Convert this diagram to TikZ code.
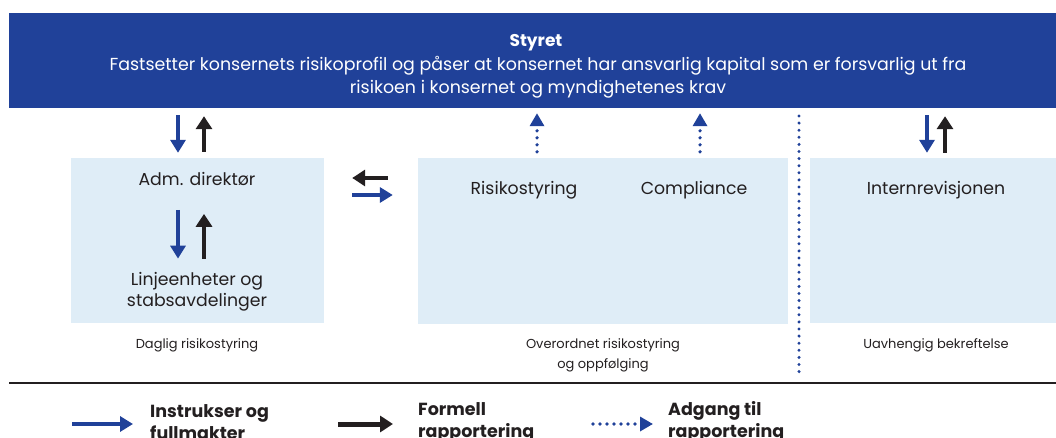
\documentclass[tikz,border=0pt]{standalone}
\usepackage{fontspec}
\setmainfont{Poppins}
\usetikzlibrary{arrows.meta}
\definecolor{navy}{RGB}{32,65,153}
\definecolor{pale}{RGB}{223,237,247}
\definecolor{ink}{RGB}{35,31,32}
\tikzset{
  box/.style={fill=pale, draw=none, inner sep=0pt},
  txt/.style={text=ink, font=\fontsize{17.3}{20.5}\selectfont, inner sep=0pt},
  small/.style={text=ink, font=\fontsize{13}{20}\selectfont, inner sep=0pt, align=center},
  leg/.style={text=ink, font=\bfseries\fontsize{17.5}{22}\selectfont, inner sep=0pt, anchor=west, align=left},
  instr/.style={draw=navy, line width=3.6pt, -{Triangle[width=15pt,length=13pt]}},
  formell/.style={draw=ink, line width=4.2pt, -{Triangle[width=16pt,length=13pt]}},
  adgang/.style={draw=navy, line width=3.6pt, line cap=round, dash pattern=on 0pt off 7pt, -{Triangle[width=14pt,length=13pt,line cap=butt]}},
}
\begin{document}
\begin{tikzpicture}[x=1pt,y=-1pt]
\useasboundingbox (0,0) rectangle (1056,438);
% top box
\node[fill=navy, inner sep=0pt, minimum width=1047pt, minimum height=95pt] (styret) at (532.5,60.5) {};
\node[text=white, font=\bfseries\fontsize{17}{19}\selectfont, inner sep=0pt] (st1) at (536,43) {Styret};
\node[text=white, font=\fontsize{17.4}{19}\selectfont, inner sep=0pt] (st2) at (538,66) {Fastsetter konsernets risikoprofil og påser at konsernet har ansvarlig kapital som er forsvarlig ut fra};
\node[text=white, font=\fontsize{17.4}{19}\selectfont, inner sep=0pt] (st3) at (538,89) {risikoen i konsernet og myndighetenes krav};
% boxes
\node[box, minimum width=253pt, minimum height=165pt] (left) at (197.5,240.5) {};
\node[box, minimum width=370pt, minimum height=166pt] (mid) at (603,241) {};
\node[box, minimum width=246pt, minimum height=165pt] (right) at (933,240.5) {};
% box texts
\node[txt] (adm) at (197,179) {Adm. direktør};
\node[txt, align=center] (linje) at (197,292) {Linjeenheter og\\stabsavdelinger};
\node[txt] (risk) at (524,190) {Risikostyring};
\node[txt] (comp) at (694,190) {Compliance};
\node[txt] (intern) at (936,190) {Internrevisjonen};
% labels below
\node[small] (l1) at (197,345) {Daglig risikostyring};
\node[small] (l2) at (603,355) {Overordnet risikostyring\\og oppfølging};
\node[small] (l3) at (936,345) {Uavhengig bekreftelse};
% helper coordinates
\coordinate (xa) at (178,0);
\coordinate (xb) at (204,0);
\coordinate (xr) at (537,0);
\coordinate (xc) at (700,0);
\coordinate (xi) at (927,0);
\coordinate (xj) at (945,0);
\coordinate (ya) at (0,178);
\coordinate (yb) at (0,195);
% left column arrows
\draw[instr, shorten <=7pt, shorten >=5pt] (styret.south -| xa) -- (left.north -| xa);
\draw[formell, shorten <=6pt, shorten >=8pt] (left.north -| xb) -- (styret.south -| xb);
\draw[instr, shorten <=24pt, shorten >=14pt] (adm.south -| xa) -- (linje.north -| xa);
\draw[formell, shorten <=14pt, shorten >=28pt] (linje.north -| xb) -- (adm.south -| xb);
% horizontal arrows
\draw[formell, shorten <=30pt, shorten >=28pt] (mid.west |- ya) -- (left.east |- ya);
\draw[instr, shorten <=28pt, shorten >=25pt] (left.east |- yb) -- (mid.west |- yb);
% dotted access arrows
\draw[adgang, shorten <=6pt, shorten >=5pt] (mid.north -| xr) -- (styret.south -| xr);
\draw[adgang, shorten <=6pt, shorten >=5pt] (mid.north -| xc) -- (styret.south -| xc);
% right column arrows
\draw[instr, shorten <=7pt, shorten >=5pt] (styret.south -| xi) -- (right.north -| xi);
\draw[formell, shorten <=5pt, shorten >=8pt] (right.north -| xj) -- (styret.south -| xj);
% vertical dotted separator
\coordinate (sepTop) at (799,116);
\coordinate (sepBot) at (799,372);
\draw[navy, line width=3.3pt, line cap=round, dash pattern=on 0pt off 7.1pt] (sepTop) -- (sepBot);
% horizontal rule
\coordinate (ruleL) at (9,383);
\coordinate (ruleR) at (1056,383);
\draw[ink, line width=1.5pt] (ruleL) -- (ruleR);
% legend
\coordinate (la1) at (72,424); \coordinate (la2) at (133,424);
\coordinate (lb1) at (338,424); \coordinate (lb2) at (393,424);
\coordinate (lc1) at (593,424); \coordinate (lc2) at (653,424);
\draw[instr] (la1) -- (la2);
\draw[formell, line width=5pt] (lb1) -- (lb2);
\draw[adgang] (lc1) -- (lc2);
\node[leg] (t1) at (150,422) {Instrukser og\\fullmakter};
\node[leg] (t2) at (418,422) {Formell\\rapportering};
\node[leg] (t3) at (668,422) {Adgang til\\rapportering};
\end{tikzpicture}
\end{document}
